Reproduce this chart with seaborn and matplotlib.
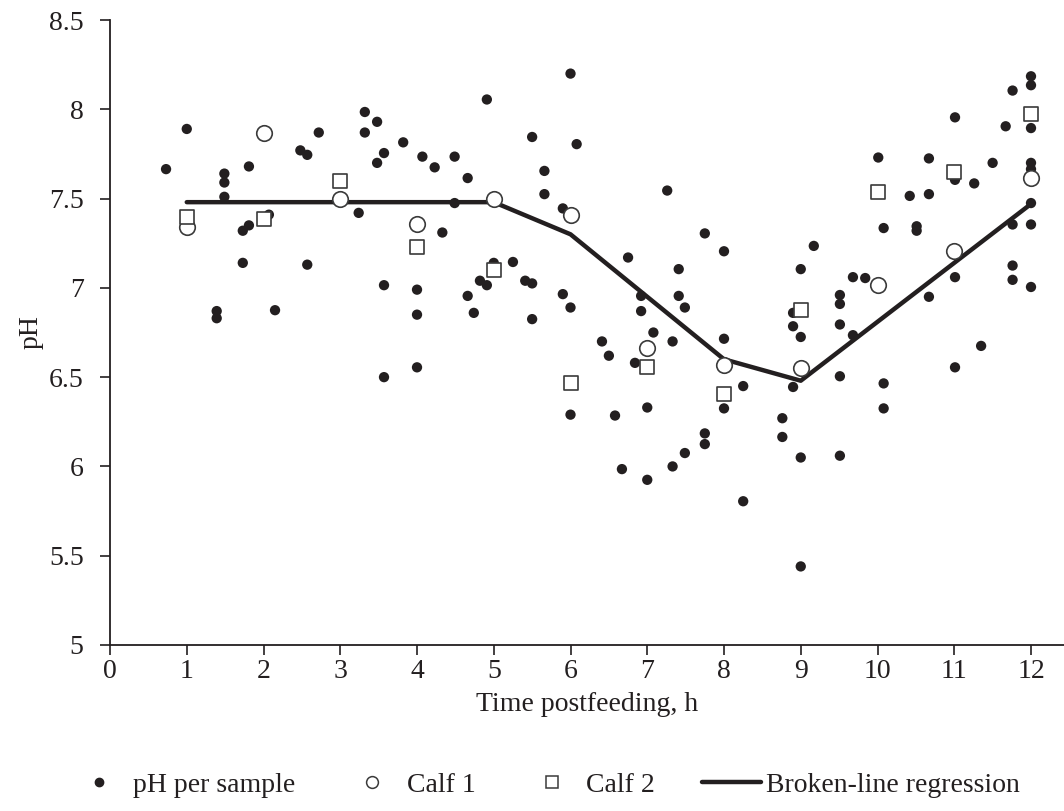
import matplotlib
matplotlib.use("Agg")
import matplotlib.pyplot as plt
from matplotlib.lines import Line2D
import seaborn as sns
import pandas as pd

# individual samples (time postfeeding h, pH)
sample_time = [0.73, 1.0, 1.39, 1.39, 1.49, 1.49, 1.49, 1.73, 1.73, 1.81, 1.81,
               2.07, 2.15, 2.48, 2.57, 2.57, 2.72, 3.24, 3.32, 3.32, 3.48, 3.48,
               3.57, 3.57, 3.57, 3.82, 4.0, 4.0, 4.0, 4.07, 4.23, 4.33, 4.49, 4.49,
               4.66, 4.66, 4.74, 4.82, 4.91, 4.91, 5.0, 5.25, 5.41, 5.5, 5.5, 5.5,
               5.66, 5.66, 5.9, 5.9, 6.0, 6.0, 6.0, 6.08, 6.41, 6.5, 6.58, 6.67,
               6.75, 6.84, 6.92, 6.92, 7.0, 7.0, 7.08, 7.26, 7.33, 7.33, 7.41, 7.41,
               7.49, 7.49, 7.75, 7.75, 7.75, 8.0, 8.0, 8.0, 8.25, 8.25, 8.76, 8.76,
               8.9, 8.9, 8.9, 9.0, 9.0, 9.0, 9.0, 9.17, 9.51, 9.51, 9.51, 9.51, 9.51,
               9.68, 9.68, 9.84, 10.01, 10.08, 10.08, 10.08, 10.42, 10.51, 10.51,
               10.67, 10.67, 10.67, 11.01, 11.01, 11.01, 11.01, 11.26, 11.35, 11.5,
               11.67, 11.76, 11.76, 11.76, 11.76, 12.0, 12.0, 12.0, 12.0, 12.0, 12.0,
               12.0, 12.0]
sample_ph = [7.665, 7.89, 6.87, 6.83, 7.64, 7.59, 7.51, 7.32, 7.14, 7.68, 7.35,
             7.41, 6.875, 7.77, 7.745, 7.13, 7.87, 7.42, 7.985, 7.87, 7.93, 7.70,
             7.755, 7.015, 6.50, 7.815, 6.99, 6.85, 6.555, 7.735, 7.675, 7.31, 7.735, 7.475,
             7.615, 6.955, 6.86, 7.04, 8.055, 7.015, 7.14, 7.145, 7.04, 7.845, 7.025, 6.825,
             7.655, 7.525, 7.445, 6.965, 8.2, 6.89, 6.29, 7.805, 6.70, 6.62, 6.285, 5.985,
             7.17, 6.58, 6.955, 6.87, 6.33, 5.925, 6.75, 7.545, 6.70, 6.0, 7.105, 6.955,
             6.89, 6.075, 7.305, 6.185, 6.125, 7.205, 6.715, 6.325, 6.45, 5.805, 6.27, 6.165,
             6.86, 6.785, 6.445, 7.105, 6.725, 6.05, 5.44, 7.235, 6.96, 6.91, 6.795, 6.505, 6.06,
             7.06, 6.735, 7.055, 7.73, 7.335, 6.465, 6.325, 7.515, 7.345, 7.32,
             7.725, 7.525, 6.95, 7.955, 7.605, 7.06, 6.555, 7.585, 6.675, 7.70,
             7.905, 8.105, 7.355, 7.125, 7.045, 8.185, 8.135, 7.895, 7.70, 7.665, 7.475,
             7.355, 7.005]

hours = [1, 2, 3, 4, 5, 6, 7, 8, 9, 10, 11, 12]
calf1_ph = [7.34, 7.87, 7.50, 7.355, 7.495, 7.41, 6.665, 6.57, 6.55, 7.015, 7.205, 7.615]
calf2_ph = [7.395, 7.385, 7.60, 7.23, 7.10, 6.47, 6.555, 6.405, 6.875, 7.535, 7.65, 7.975]
regression_ph = [7.48, 7.48, 7.48, 7.48, 7.48, 7.30, 6.95, 6.60, 6.48, 6.81, 7.14, 7.47]

samples = pd.DataFrame({"time": sample_time, "ph": sample_ph})
calves = pd.DataFrame({"time": hours, "calf1": calf1_ph, "calf2": calf2_ph,
                       "fit": regression_ph})

sns.set_style("ticks")
plt.rcParams["font.family"] = ["Liberation Serif", "DejaVu Serif"]
plt.rcParams["font.size"] = 20
ink = "#231f20"

fig, ax = plt.subplots(figsize=(10.64, 8.11), dpi=100)
fig.subplots_adjust(left=0.1034, right=1.0, bottom=0.2047, top=0.9753)

sns.scatterplot(data=samples, x="time", y="ph", ax=ax, s=55, color=ink,
                edgecolor="none", zorder=2, legend=False)
sns.lineplot(data=calves, x="time", y="fit", ax=ax, color=ink, linewidth=3.2,
             sort=False, zorder=3, legend=False)
sns.scatterplot(data=calves, x="time", y="calf1", ax=ax, marker="o", s=125,
                facecolor="white", edgecolor="#3a3a3a", linewidth=1.2, zorder=4,
                legend=False)
sns.scatterplot(data=calves, x="time", y="calf2", ax=ax, marker="s", s=115,
                facecolor="white", edgecolor="#3a3a3a", linewidth=1.2, zorder=4,
                legend=False)

ax.set_xlim(0, 12.43)
ax.set_ylim(5, 8.5)
ax.set_xticks(range(0, 13))
ax.set_yticks([5, 5.5, 6, 6.5, 7, 7.5, 8, 8.5])
ax.set_yticklabels(["5", "5.5", "6", "6.5", "7", "7.5", "8", "8.5"])
ax.set_xlabel("Time postfeeding, h", color=ink, labelpad=6)
ax.set_ylabel("pH", color=ink, labelpad=4)
ax.tick_params(axis="x", direction="out", length=7, width=1.2, pad=3, colors=ink)
ax.tick_params(axis="y", direction="out", length=7, width=1.2, pad=12, colors=ink)
for side in ["top", "right"]:
    ax.spines[side].set_visible(False)
for side in ["left", "bottom"]:
    ax.spines[side].set_color(ink)
    ax.spines[side].set_linewidth(1.3)

handles = [
    Line2D([], [], linestyle="none", marker="o", markersize=6, color=ink),
    Line2D([], [], linestyle="none", marker="o", markersize=8.5,
           markerfacecolor="white", markeredgecolor="#3a3a3a", markeredgewidth=1.1),
    Line2D([], [], linestyle="none", marker="s", markersize=8.5,
           markerfacecolor="white", markeredgecolor="#3a3a3a", markeredgewidth=1.1),
    Line2D([], [], color=ink, linewidth=3.2),
]
labels = ["pH per sample", "Calf 1", "Calf 2", "Broken-line regression"]
leg = fig.legend(handles, labels, loc="center", bbox_to_anchor=(0.512, 0.032),
                 ncol=4, frameon=False, handlelength=2.12, handletextpad=0.18,
                 columnspacing=1.7, fontsize=20)
for t in leg.get_texts():
    t.set_color(ink)

fig.savefig("out.png", dpi=100)
